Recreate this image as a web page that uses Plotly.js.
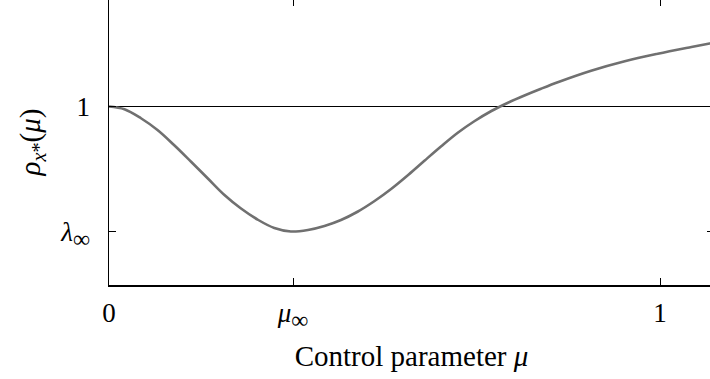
<!DOCTYPE html>
<html>
<head>
<meta charset="utf-8">
<script src="https://cdn.plot.ly/plotly-3.0.1.min.js"></script>
<style>
html,body{margin:0;padding:0;overflow:hidden;background:#fff;width:710px;height:379px;}
#chart{position:absolute;left:0;top:-1px;width:716px;height:380px;}
</style>
</head>
<body>
<div id="chart"></div>
<script>
// Control parameter mu (x) and rho_{x*}(mu) (y); lambda_inf drawn at 0.5
var mu  = [0, 0.028, 0.058, 0.088, 0.118, 0.149, 0.179, 0.209, 0.239, 0.271, 0.300, 0.330, 0.361, 0.391, 0.421, 0.451, 0.482, 0.512, 0.544, 0.573, 0.603, 0.633, 0.663, 0.694, 0.724, 0.754, 0.784, 0.817, 0.875, 0.936, 0.996, 1.057, 1.090, 1.098];
var rho = [1.0, 0.989, 0.953, 0.906, 0.846, 0.779, 0.713, 0.647, 0.593, 0.546, 0.514, 0.500, 0.506, 0.522, 0.546, 0.579, 0.622, 0.670, 0.728, 0.784, 0.841, 0.895, 0.941, 0.982, 1.015, 1.044, 1.071, 1.099, 1.143, 1.181, 1.211, 1.238, 1.252, 1.255];
var refX = [0, 1.098];
var refY = [1, 1];
var xTickVals = [0, 0.334, 1];
var xTickText = ['0', '<i>μ</i><sub><span style="font-size:24px">∞</span></sub>', '1'];
var yTickVals = [0.5, 1];
var yTickText = ['<i>λ</i><sub><span style="font-size:24px">∞</span></sub>', '1'];

var serif = 'Liberation Serif';

var traces = [
  {x: refX, y: refY, type: 'scatter', mode: 'lines', line: {color: '#000', width: 1}, hoverinfo: 'skip', showlegend: false},
  {x: mu, y: rho, type: 'scatter', mode: 'lines', line: {color: '#707070', width: 2.6, shape: 'spline', smoothing: 1}, showlegend: false}
];

var layout = {
  width: 716, height: 380,
  margin: {l: 109, r: 2, t: 0, b: 94},
  paper_bgcolor: '#fff', plot_bgcolor: '#fff',
  font: {family: serif, color: '#000', size: 27},
  showlegend: false,
  xaxis: {
    range: [0, 1.098], tickvals: xTickVals, ticktext: xTickText,
    ticks: 'inside', ticklen: 7, tickwidth: 1, tickcolor: '#000',
    showline: true, linecolor: '#000', linewidth: 1.5, mirror: 'ticks',
    showgrid: false, zeroline: false,
    ticklabelstandoff: 3,
    tickfont: {family: serif, size: 27, color: '#000'},
    title: {text: 'Control parameter <i>μ</i>', font: {family: serif, size: 29, color: '#000'}, standoff: 14}
  },
  yaxis: {
    range: [0.286, 1.43], tickvals: yTickVals, ticktext: yTickText,
    ticks: 'inside', ticklen: 7, tickwidth: 1, tickcolor: '#000',
    showline: true, linecolor: '#000', linewidth: 1.5, mirror: 'ticks',
    showgrid: false, zeroline: false,
    ticklabelstandoff: 12,
    tickfont: {family: serif, size: 27, color: '#000'},
    title: {text: '<i>ρ</i><sub><i>x</i>*</sub>(<i>μ</i>)', font: {family: serif, size: 29, color: '#000'}, standoff: 11}
  }
};

Plotly.newPlot('chart', traces, layout, {displayModeBar: false, staticPlot: true});
</script>
</body>
</html>
